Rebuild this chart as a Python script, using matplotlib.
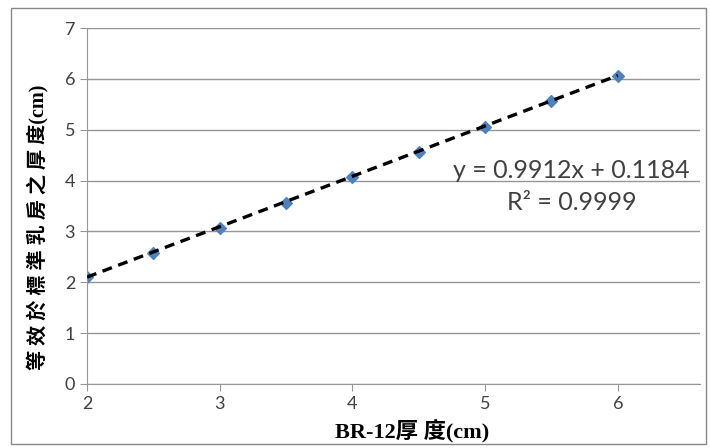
import numpy as np
import matplotlib.pyplot as plt
from matplotlib.patches import Rectangle

plt.rcParams['font.family'] = ['Lato', 'Noto Sans CJK TC', 'DejaVu Sans']

# data
br12 = [2, 2.5, 3, 3.5, 4, 4.5, 5, 5.5, 6]
equiv = [2.10, 2.58, 3.06, 3.55, 4.06, 4.56, 5.05, 5.57, 6.05]
slope, intercept = 0.9912, 0.1184
r2 = 0.9999
xticks = [2, 3, 4, 5, 6]
yticks = [0, 1, 2, 3, 4, 5, 6, 7]

serif_cjk = ['Liberation Serif', 'Noto Sans CJK TC']

fig = plt.figure(figsize=(7.1, 4.48), dpi=100)
ax = fig.add_axes([0.1225, 0.143, 0.8635, 0.7945])

# outer chart border
fig.patches.append(Rectangle((0.016, 0.008), 0.978, 0.975, transform=fig.transFigure,
                             fill=False, edgecolor='#888888', linewidth=1))

ax.set_xlim(2, 6.62)
ax.set_ylim(0, 7)
ax.set_xticks(xticks)
ax.set_yticks(yticks)
ax.grid(axis='y', color='#969696', linewidth=1)
ax.set_axisbelow(True)
for s in ['top', 'right']:
    ax.spines[s].set_visible(False)
for s in ['left', 'bottom']:
    ax.spines[s].set_color('#969696')
ax.tick_params(colors='#969696', labelcolor='#404040', labelsize=13, length=5)

# trendline
xs = np.array([br12[0], br12[-1]])
ax.plot(xs, slope * xs + intercept, color='black', linestyle=(0, (3, 2)), linewidth=2.4, zorder=3)
ax.scatter(br12, equiv, marker='D', s=36, color='#4f81bd', zorder=2)

ax.text(5.65, 4.05, 'y = %.4fx + %.4f' % (slope, intercept), fontsize=18, color='#404040', ha='center')
ax.text(5.65, 3.42, 'R² = %.4f' % r2, fontsize=18, color='#404040', ha='center')

ax.set_xlabel('BR-12厚 度(cm)', fontsize=16, fontweight='bold', family=serif_cjk)
ax.xaxis.set_label_coords(0.53, -0.098)
ax.set_ylabel(' '.join('等效於標準乳房之厚度') + '(cm)', fontsize=14.5, fontweight='bold', family=serif_cjk)
ax.yaxis.set_label_coords(-0.063, 0.44)

fig.savefig('out.png', dpi=100)
